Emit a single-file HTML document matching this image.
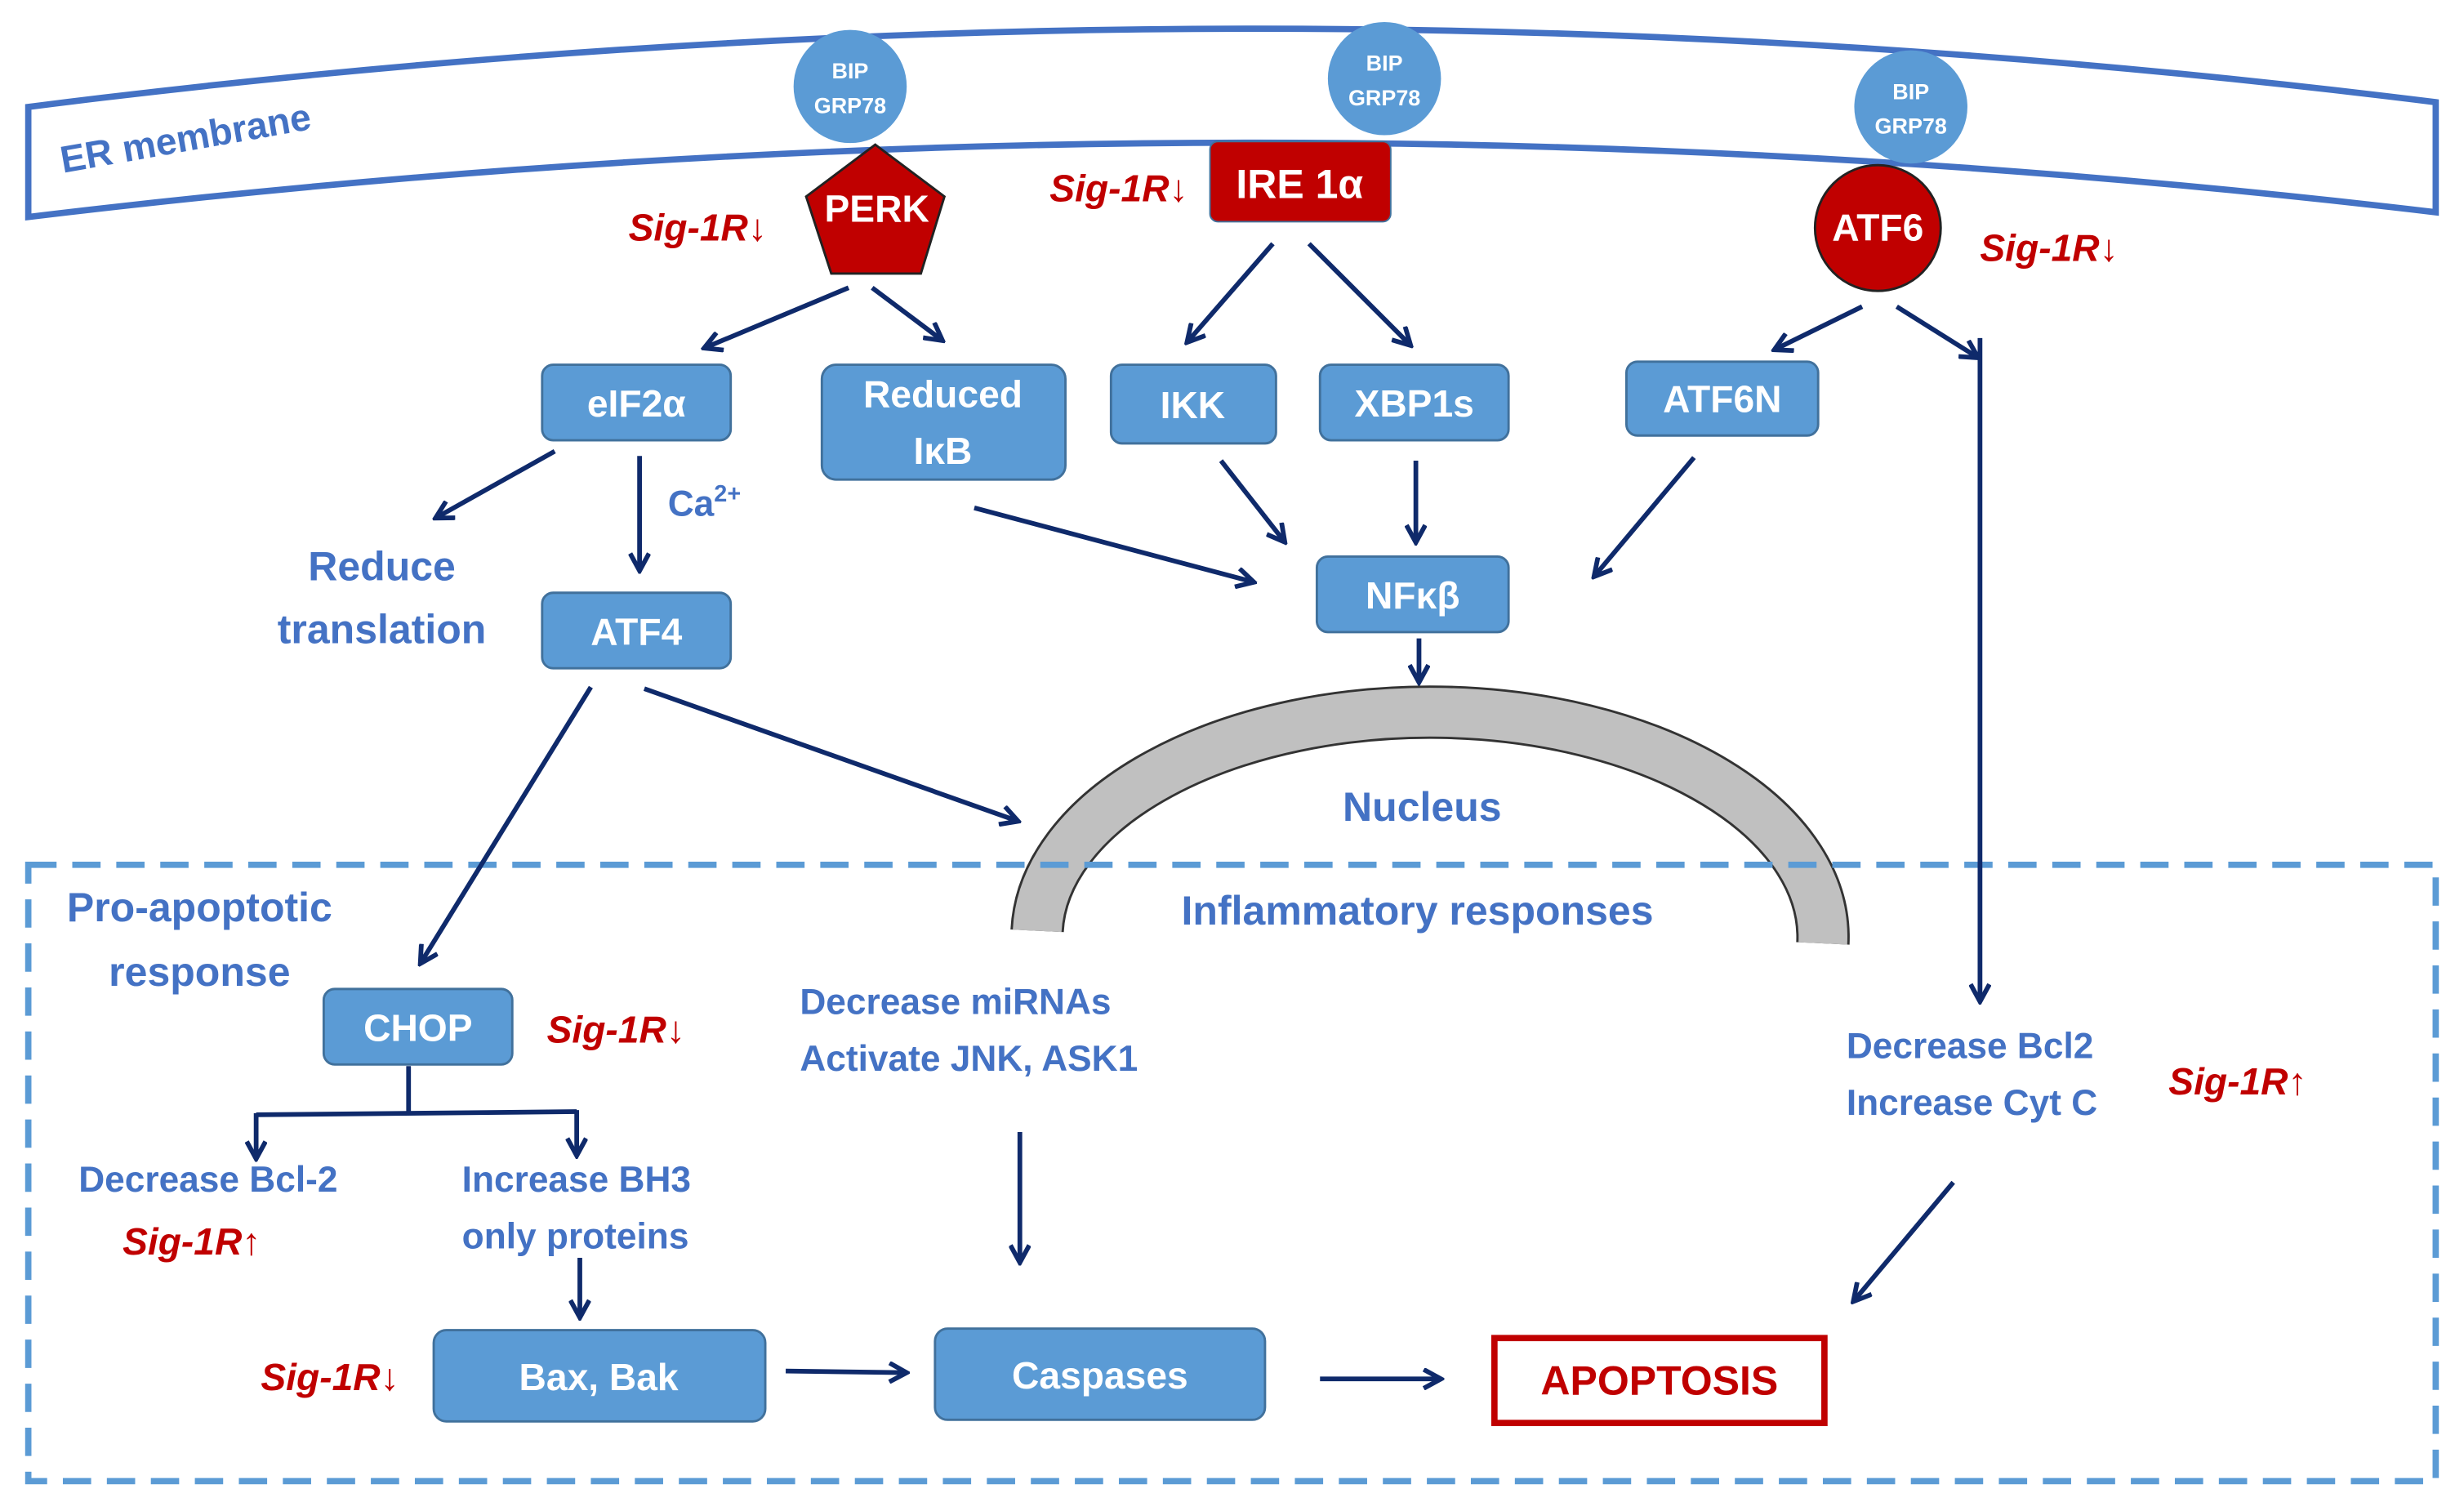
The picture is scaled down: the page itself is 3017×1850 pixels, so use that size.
<!DOCTYPE html>
<html><head><meta charset="utf-8"><style>
html,body{margin:0;padding:0;background:#fff;}
svg{display:block;}
text{font-family:"Liberation Sans Narrow","Liberation Sans",sans-serif;font-weight:bold;}
.w{fill:#fff;}
.b{fill:#4472c4;}
.r{fill:#c00000;font-style:italic;}
.box{fill:#5b9bd5;stroke:#41719c;stroke-width:1.5;}
.ar{stroke:#0f2a6b;stroke-width:3;fill:none;marker-end:url(#ah);}
.ln{stroke:#0f2a6b;stroke-width:3;fill:none;}
</style></head><body>
<svg width="3017" height="1850" viewBox="0 0 1568 961" preserveAspectRatio="none" xmlns="http://www.w3.org/2000/svg">
<defs><marker id="ah" markerWidth="14" markerHeight="14" refX="11" refY="7" orient="auto" markerUnits="userSpaceOnUse"><path d="M1,1 L12,7 L1,13" fill="none" stroke="#0f2a6b" stroke-width="3"/></marker></defs>
<path d="M18,68 Q790,-30 1550,65 L1550,135 Q790,45 18,138 Z" fill="#fff" stroke="#4472c4" stroke-width="4"/>
<text x="40" y="110" font-size="24" class="b" transform="rotate(-10 40 110)">ER membrane</text>
<g font-size="14">
<circle cx="541" cy="55" r="36" fill="#5b9bd5"/><text x="541" y="50" text-anchor="middle" class="w">BIP</text><text x="541" y="72" text-anchor="middle" class="w">GRP78</text>
<circle cx="881" cy="50" r="36" fill="#5b9bd5"/><text x="881" y="45" text-anchor="middle" class="w">BIP</text><text x="881" y="67" text-anchor="middle" class="w">GRP78</text>
<circle cx="1216" cy="68" r="36" fill="#5b9bd5"/><text x="1216" y="63" text-anchor="middle" class="w">BIP</text><text x="1216" y="85" text-anchor="middle" class="w">GRP78</text>
</g>
<polygon points="557,92 601,125 586,174 529,174 513,125" fill="#c00000" stroke="#222" stroke-width="1.5"/>
<text x="558" y="141" font-size="24" text-anchor="middle" class="w">PERK</text>
<rect x="770" y="90" width="115" height="51" rx="5" fill="#c00000" stroke="#41719c"/>
<text x="827" y="126" font-size="26" text-anchor="middle" class="w">IRE 1α</text>
<circle cx="1195" cy="145" r="40" fill="#c00000" stroke="#222" stroke-width="1.5"/>
<text x="1195" y="153" font-size="24" text-anchor="middle" class="w">ATF6</text>
<g font-size="24" class="r">
<text x="400" y="153">Sig-1R↓</text>
<text x="668" y="128">Sig-1R↓</text>
<text x="1260" y="166">Sig-1R↓</text>
<text x="348" y="663">Sig-1R↓</text>
<text x="1380" y="696">Sig-1R↑</text>
<text x="78" y="798">Sig-1R↑</text>
<text x="166" y="884">Sig-1R↓</text>
</g>
<g font-size="24">
<rect class="box" x="345" y="232" width="120" height="48" rx="7"/><text x="405" y="265" text-anchor="middle" class="w">eIF2α</text>
<rect class="box" x="523" y="232" width="155" height="73" rx="9"/><text x="600" y="259" text-anchor="middle" class="w">Reduced</text><text x="600" y="295" text-anchor="middle" class="w">IκB</text>
<rect class="box" x="707" y="232" width="105" height="50" rx="7"/><text x="759" y="266" text-anchor="middle" class="w">IKK</text>
<rect class="box" x="840" y="232" width="120" height="48" rx="7"/><text x="900" y="265" text-anchor="middle" class="w">XBP1s</text>
<rect class="box" x="1035" y="230" width="122" height="47" rx="7"/><text x="1096" y="262" text-anchor="middle" class="w">ATF6N</text>
<rect class="box" x="838" y="354" width="122" height="48" rx="7"/><text x="899" y="387" text-anchor="middle" class="w">NFκβ</text>
<rect class="box" x="345" y="377" width="120" height="48" rx="7"/><text x="405" y="410" text-anchor="middle" class="w">ATF4</text>
<rect class="box" x="206" y="629" width="120" height="48" rx="7"/><text x="266" y="662" text-anchor="middle" class="w">CHOP</text>
<rect class="box" x="276" y="846" width="211" height="58" rx="8"/><text x="381" y="884" text-anchor="middle" class="w">Bax, Bak</text>
<rect class="box" x="595" y="845" width="210" height="58" rx="8"/><text x="700" y="883" text-anchor="middle" class="w">Caspases</text>
</g>
<rect x="951" y="851" width="210" height="54" fill="#fff" stroke="#c00000" stroke-width="4"/>
<text x="1056" y="887" font-size="26" text-anchor="middle" fill="#c00000">APOPTOSIS</text>
<path d="M660,592 A250,143 0 0 1 1160,600" fill="none" stroke="#333" stroke-width="34"/>
<path d="M660,592 A250,143 0 0 1 1160,600" fill="none" stroke="#c0c0c0" stroke-width="31"/>
<rect x="18" y="550" width="1532" height="392" fill="none" stroke="#5b9bd5" stroke-width="4" stroke-dasharray="18 10"/>
<g class="b" font-size="26">
<text x="243" y="369" text-anchor="middle">Reduce</text>
<text x="243" y="409" text-anchor="middle">translation</text>
<text x="905" y="522" text-anchor="middle">Nucleus</text>
<text x="902" y="588" text-anchor="middle">Inflammatory responses</text>
<text x="127" y="586" text-anchor="middle">Pro-apoptotic</text>
<text x="127" y="627" text-anchor="middle">response</text>
</g>
<g class="b" font-size="23">
<text x="425" y="328">Ca<tspan font-size="15" dy="-9">2+</tspan></text>
<text x="509" y="645">Decrease miRNAs</text>
<text x="509" y="681">Activate JNK, ASK1</text>
<text x="1175" y="673">Decrease Bcl2</text>
<text x="1175" y="709">Increase Cyt C</text>
<text x="50" y="758">Decrease Bcl-2</text>
<text x="294" y="758">Increase BH3</text>
<text x="294" y="794">only proteins</text>
</g>
<line class="ar" x1="540" y1="183" x2="449" y2="221"/>
<line class="ar" x1="555" y1="183" x2="599" y2="216"/>
<line class="ar" x1="810" y1="155" x2="756" y2="217"/>
<line class="ar" x1="833" y1="155" x2="897" y2="219"/>
<line class="ar" x1="1185" y1="195" x2="1130" y2="222"/>
<line class="ar" x1="1207" y1="195" x2="1258" y2="227"/>
<line class="ar" x1="1260" y1="215" x2="1260" y2="636"/>
<line class="ar" x1="353" y1="287" x2="278" y2="329"/>
<line class="ar" x1="407" y1="290" x2="407" y2="362"/>
<line class="ar" x1="620" y1="323" x2="797" y2="370"/>
<line class="ar" x1="777" y1="293" x2="817" y2="344"/>
<line class="ar" x1="901" y1="293" x2="901" y2="344"/>
<line class="ar" x1="1078" y1="291" x2="1015" y2="366"/>
<line class="ar" x1="903" y1="406" x2="903" y2="433"/>
<line class="ar" x1="410" y1="438" x2="647" y2="522"/>
<line class="ar" x1="376" y1="437" x2="268" y2="612"/>
<line class="ln" x1="260" y1="678" x2="260" y2="708"/>
<line class="ln" x1="163" y1="709" x2="367" y2="707"/>
<line class="ar" x1="163" y1="708" x2="163" y2="736"/>
<line class="ar" x1="367" y1="706" x2="367" y2="734"/>
<line class="ar" x1="369" y1="800" x2="369" y2="837"/>
<line class="ar" x1="649" y1="720" x2="649" y2="802"/>
<line class="ar" x1="500" y1="872" x2="576" y2="873"/>
<line class="ar" x1="840" y1="877" x2="916" y2="877"/>
<line class="ar" x1="1243" y1="752" x2="1180" y2="827"/>
</svg>
</body></html>
